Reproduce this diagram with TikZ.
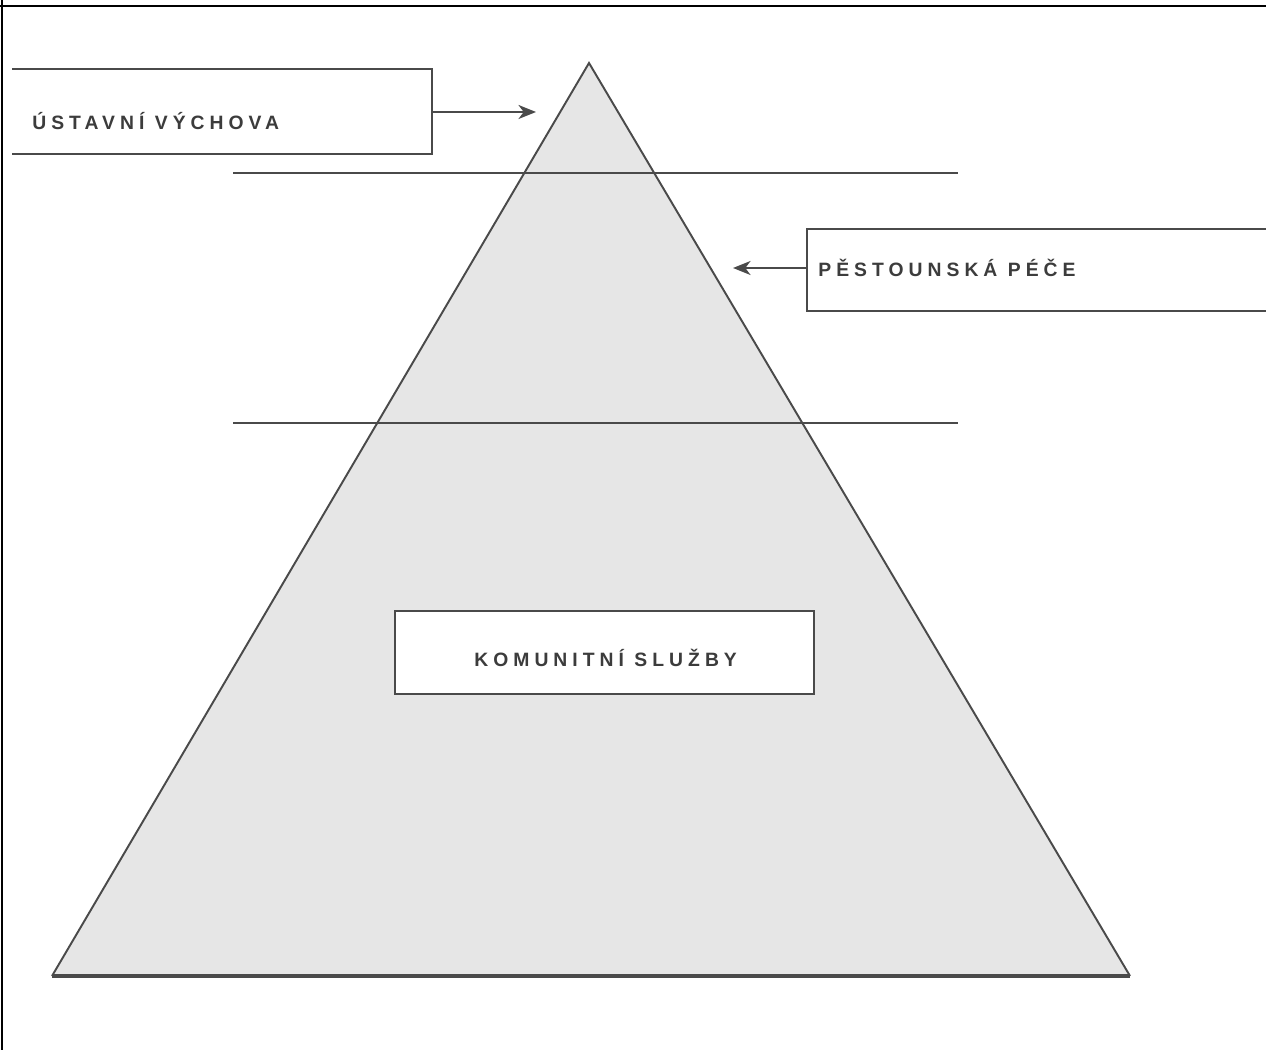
\documentclass[tikz,border=0pt]{standalone}
\usepackage{fontspec}
\setsansfont{Liberation Sans}
\usetikzlibrary{arrows.meta}
\definecolor{ink}{HTML}{4A4A4A}
\definecolor{pyrfill}{HTML}{E6E6E6}
\definecolor{txt}{HTML}{3C3C3C}
\begin{document}
\begin{tikzpicture}[x=0.02cm,y=-0.02cm,
  edge/.style={draw=ink,line width=1.1pt},
  labelbox/.style={fill=white,rectangle,inner sep=0pt,anchor=north west},
  caption/.style={font=\sffamily\bfseries\fontsize{11}{13}\selectfont\addfontfeature{LetterSpace=26},text=txt,anchor=west,inner sep=0pt},
  arr/.style={draw=ink,line width=1.1pt,-{Stealth[length=10pt,width=8pt,inset=3pt]}}]
  \useasboundingbox (0,0) rectangle (1266,1050);
  % pyramid
  \coordinate (apex) at (589,63);
  \coordinate (bl) at (52,976);
  \coordinate (br) at (1130,976);
  \fill[pyrfill] (apex) -- (br) -- (bl) -- cycle;
  \draw[edge,line join=miter] (bl) -- (apex) -- (br);
  \draw[draw=ink,line width=2pt] (bl) -- (br);
  % level separators
  \coordinate (s1l) at (233,173); \coordinate (s1r) at (958,173);
  \coordinate (s2l) at (233,423); \coordinate (s2r) at (958,423);
  \draw[edge] (s1l) -- (s1r);
  \draw[edge] (s2l) -- (s2r);
  % label boxes
  \node[labelbox,minimum width=419*0.02cm,minimum height=84*0.02cm] (ub) at (12,69) {};
  \draw[edge] (ub.north west) -- (ub.north east) -- (ub.south east) -- (ub.south west);
  \node[caption] (ut) at (32,121) {ÚSTAVNÍ VÝCHOVA};
  \node[labelbox,draw=ink,line width=1.1pt,minimum width=480*0.02cm,minimum height=82*0.02cm] (pb) at (806,228) {};
  \node[caption] (pt) at (818,268) {PĚSTOUNSKÁ PÉČE};
  \node[labelbox,draw=ink,line width=1.1pt,minimum width=419*0.02cm,minimum height=83*0.02cm] (kb) at (394,610) {};
  \node[caption] (kt) at (474,658) {KOMUNITNÍ SLUŽBY};
  % arrows
  \coordinate (ua) at (536,112);
  \coordinate (pa) at (733,268);
  \draw[arr] (ub.east |- ua) -- (ua);
  \draw[arr] (pb.west |- pa) -- (pa);
  % page frame (top and left edges)
  \draw[black,line width=1.6pt] (0,6) -- (1266,6);
  \draw[black,line width=1.6pt] (2,0) -- (2,1050);
\end{tikzpicture}
\end{document}
